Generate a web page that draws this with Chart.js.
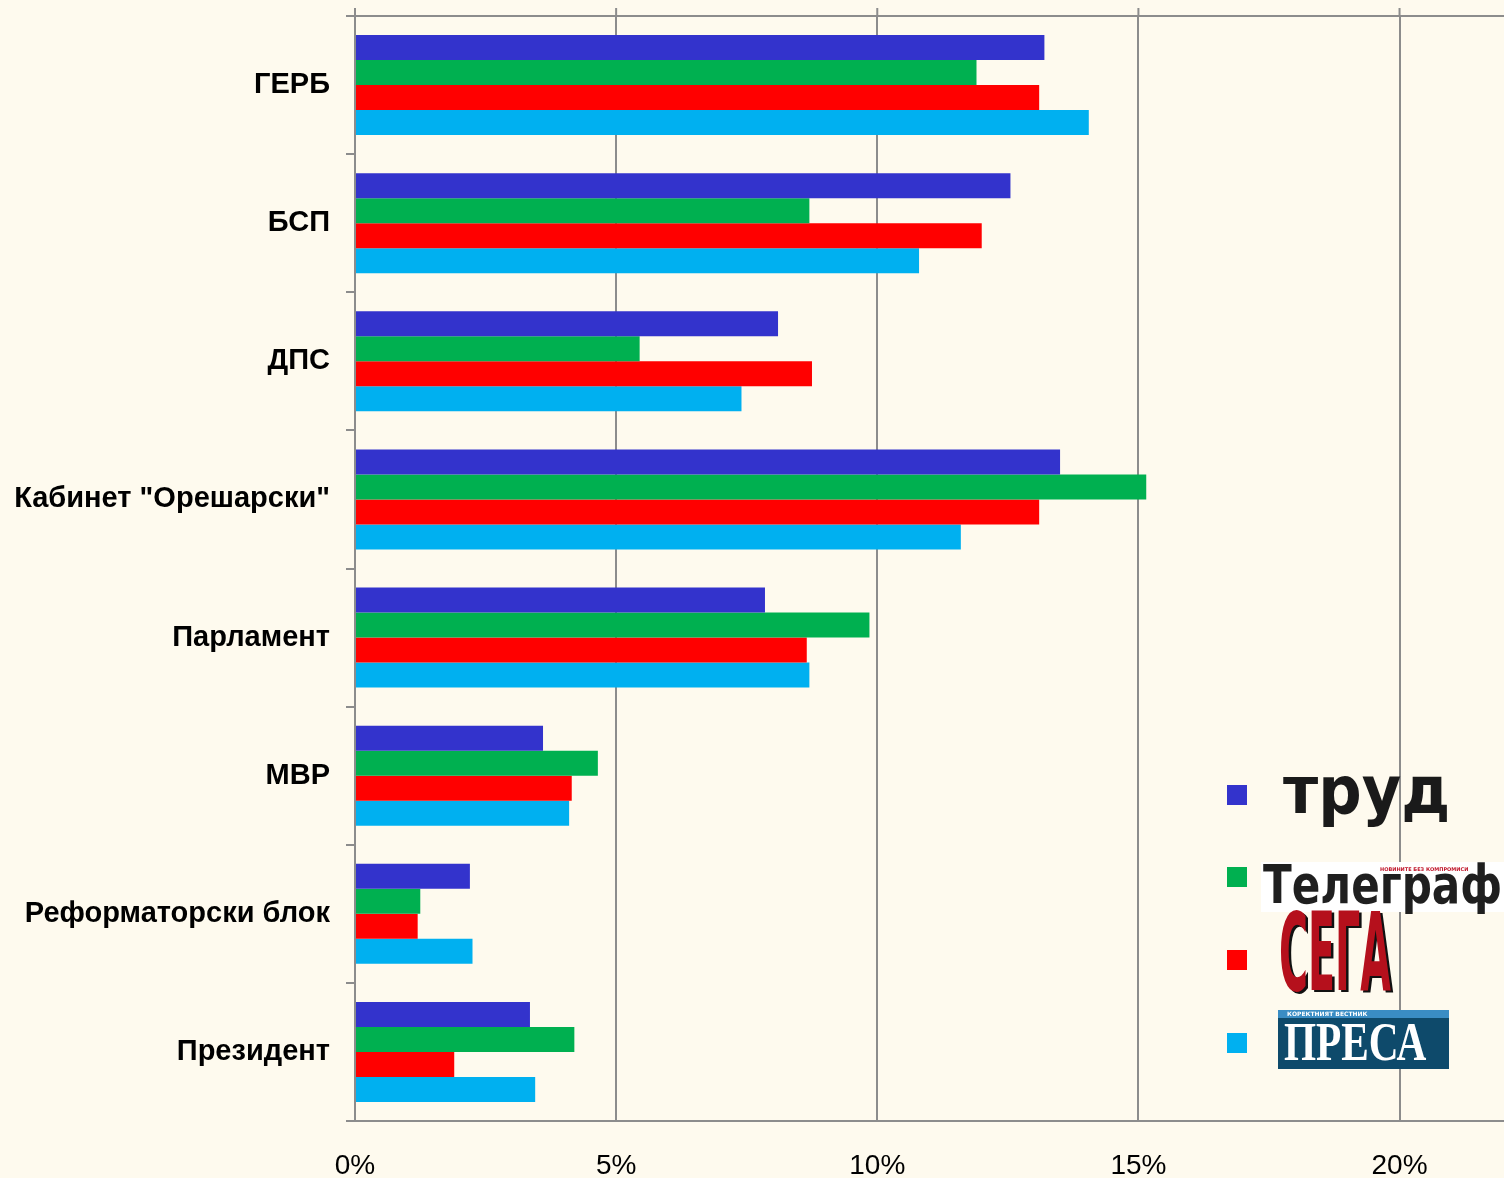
<!DOCTYPE html>
<html>
<head>
<meta charset="utf-8">
<script src="https://cdn.jsdelivr.net/npm/chart.js@4.4.0/dist/chart.umd.min.js"></script>
<style>
  html, body { margin: 0; padding: 0; background: #fefaee; }
  #wrap { width: 1504px; height: 1178px; }
</style>
</head>
<body>
<div id="wrap"><canvas id="pollChart" width="1504" height="1178"></canvas></div>
<script>
// institutions / parties
const categories = ['ГЕРБ', 'БСП', 'ДПС', 'Кабинет "Орешарски"', 'Парламент', 'МВР', 'Реформаторски блок', 'Президент'];
// share of mentions per newspaper, %
const trud     = [13.2, 12.55, 8.1, 13.5, 7.85, 3.6, 2.2, 3.35];
const telegraf = [11.9, 8.7, 5.45, 15.15, 9.85, 4.65, 1.25, 4.2];
const sega     = [13.1, 12.0, 8.75, 13.1, 8.65, 4.15, 1.2, 1.9];
const presa    = [14.05, 10.8, 7.4, 11.6, 8.7, 4.1, 2.25, 3.45];
const seriesNames = ['Труд', 'Телеграф', 'Сега', 'Преса'];
const xTicks = [0, 5, 10, 15, 20];

const colors = ['#3333cc', '#00b050', '#ff0000', '#00b0f0'];
const gridColor = '#8c8c8c';

// cream page background
const bgPlugin = {
  id: 'bg',
  beforeDraw(chart) {
    const ctx = chart.ctx;
    ctx.save();
    ctx.fillStyle = '#fefaee';
    ctx.fillRect(0, 0, chart.width, chart.height);
    ctx.restore();
  }
};

// top border + little tick marks above it
const frameTop = {
  id: 'frameTop',
  beforeDatasetsDraw(chart) {
    const { ctx, chartArea } = chart;
    const xs = chart.scales.x;
    ctx.save();
    ctx.strokeStyle = gridColor;
    ctx.lineWidth = 2;
    ctx.beginPath();
    ctx.moveTo(chartArea.left - 9, chartArea.top);
    ctx.lineTo(chartArea.right, chartArea.top);
    xTicks.forEach(v => {
      const px = xs.getPixelForValue(v);
      ctx.moveTo(px, chartArea.top - 8);
      ctx.lineTo(px, chartArea.top);
    });
    ctx.stroke();
    ctx.restore();
  }
};

// legend: colour squares with the newspaper names drawn as mastheads
const logoLegend = {
  id: 'logoLegend',
  afterDraw(chart) {
    const ctx = chart.ctx;
    const rows = [795, 877, 960, 1043];
    ctx.save();
    rows.forEach((y, i) => {
      ctx.fillStyle = colors[i];
      ctx.fillRect(1227, y - 10, 20, 20);
    });
    ctx.textBaseline = 'middle';

    // Труд
    ctx.fillStyle = '#1a1a1a';
    ctx.font = 'bold 66px "DejaVu Sans"';
    ctx.textAlign = 'left';
    ctx.save();
    ctx.translate(1283, 796);
    ctx.scale(0.92, 1);
    ctx.fillText(seriesNames[0].toLowerCase(), 0, 0);
    ctx.restore();

    // Телеграф
    ctx.fillStyle = '#ffffff';
    ctx.fillRect(1261, 862, 243, 50);
    ctx.fillStyle = '#1f1f1f';
    ctx.save();
    ctx.translate(1263, 889);
    ctx.scale(0.78, 1);
    ctx.font = 'bold 54px "DejaVu Sans"';
    ctx.fillText(seriesNames[1], 0, 0);
    ctx.restore();
    ctx.fillStyle = '#c0162a';
    ctx.font = 'bold 5px "DejaVu Sans"';
    ctx.fillText('НОВИНИТЕ БЕЗ КОМПРОМИСИ', 1380, 870);

    // Сега
    ctx.save();
    ctx.translate(1279, 962);
    ctx.scale(0.6, 1.65);
    ctx.font = 'bold 66px "DejaVu Sans"';
    ctx.fillStyle = '#111';
    ctx.fillText(seriesNames[2].toUpperCase(), 4, 1);
    ctx.fillStyle = '#b5101c';
    ctx.fillText(seriesNames[2].toUpperCase(), 0, 0);
    ctx.restore();

    // Преса
    ctx.fillStyle = '#0e4a6b';
    ctx.fillRect(1278, 1010, 171, 59);
    ctx.fillStyle = '#3a8dc4';
    ctx.fillRect(1278, 1010, 171, 8);
    ctx.fillStyle = '#ffffff';
    ctx.font = 'bold 6px "DejaVu Sans"';
    ctx.fillText('КОРЕКТНИЯТ ВЕСТНИК', 1287, 1014);
    ctx.save();
    ctx.translate(1284, 1046);
    ctx.scale(0.86, 1.15);
    ctx.font = 'bold 48px "Liberation Serif"';
    ctx.fillText(seriesNames[3].toUpperCase(), 0, 0);
    ctx.restore();
    ctx.restore();
  }
};

const datasets = [trud, telegraf, sega, presa].map((vals, i) => ({
  label: seriesNames[i],
  data: vals,
  backgroundColor: colors[i],
  borderWidth: 0,
  categoryPercentage: 0.724,
  barPercentage: 1.0
}));

new Chart(document.getElementById('pollChart'), {
  type: 'bar',
  data: { labels: categories, datasets: datasets },
  options: {
    indexAxis: 'y',
    responsive: false,
    animation: false,
    layout: { padding: { top: 16, right: 0, bottom: 0, left: 0 } },
    plugins: {
      legend: { display: false },
      tooltip: { enabled: false }
    },
    scales: {
      x: {
        min: 0,
        max: 22,
        afterBuildTicks(scale) {
          scale.ticks = xTicks.map(v => ({ value: v }));
        },
        afterFit(scale) {
          scale.height = 57;
          scale.paddingLeft = 0;
          scale.paddingRight = 0;
        },
        grid: { color: gridColor, lineWidth: 2, drawTicks: false },
        border: { color: gridColor, width: 2 },
        ticks: {
          padding: 28,
          color: '#000',
          font: { family: '"Liberation Sans", Arial', size: 28 },
          callback: v => v + '%'
        }
      },
      y: {
        afterFit(scale) {
          scale.width = 355;
          scale.paddingTop = 0;
          scale.paddingBottom = 0;
        },
        grid: { drawOnChartArea: false, color: gridColor, lineWidth: 2, tickLength: 9 },
        border: { color: gridColor, width: 2 },
        ticks: {
          padding: 16,
          color: '#000',
          font: { family: '"Liberation Sans", Arial', size: 29, weight: 'bold' }
        }
      }
    }
  },
  plugins: [bgPlugin, frameTop, logoLegend]
});
</script>
</body>
</html>
